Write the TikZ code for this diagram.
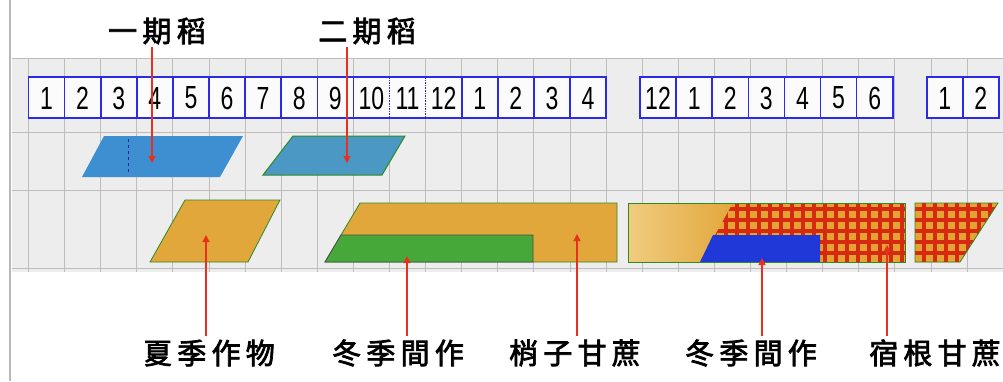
\documentclass[tikz,border=0pt]{standalone}
\usepackage{fontspec}
\usetikzlibrary{arrows.meta}
\newfontfamily\cjk[FakeBold=2.5,LetterSpace=18]{Noto Sans CJK TC}
\newfontfamily\numfont[FakeStretch=0.72]{Liberation Sans}
\definecolor{boxblue}{HTML}{2B2BE6}
\definecolor{riceblue}{HTML}{3D8FD1}
\definecolor{riceblueb}{HTML}{4C98C4}
\definecolor{cropor}{HTML}{E2A73A}
\definecolor{cropgr}{HTML}{47A83A}
\definecolor{edgegr}{HTML}{2E8A22}
\definecolor{cropred}{HTML}{D52A10}
\definecolor{lightor}{HTML}{F0CC80}
\definecolor{intblue}{HTML}{2038D8}
\definecolor{conred}{HTML}{E83020}
\definecolor{bggrid}{HTML}{BDBDBD}
\tikzset{
  mlabel/.style={font=\numfont\fontsize{32}{32}\selectfont, inner sep=0pt},
  boxline/.style={draw=boxblue, line width=1.6pt},
  tlabel/.style={font=\cjk\fontsize{29}{29}\selectfont, inner sep=3pt},
  conn/.style={draw=conred, line width=1.2pt, -{Triangle[length=7pt,width=7pt]}},
  cropedge/.style={draw=edgegr, line width=0.8pt},
}
\begin{document}
\begin{tikzpicture}[x=1pt,y=-1pt]
\useasboundingbox (0,0) rectangle (1003,381);
% background
\fill[white] (0,0) rectangle (1003,381);
\draw[gray!55, line width=1.2pt] (10,0) -- (10,381);
\fill[gray!14] (12,58) rectangle (1003,272);
\foreach \k in {0,...,27}
  \draw[bggrid, line width=0.9pt] ({28.5+36.1*\k},58) -- ({28.5+36.1*\k},272);
\foreach \yy in {58,132,190,268}
  \draw[bggrid, line width=0.9pt] (12,\yy) -- (1003,\yy);
\fill[white!70!gray!10] (28.5,77) rectangle (606.1,118);
\fill[white!70!gray!10] (640,77) rectangle (892.7,118);
\fill[white!70!gray!10] (926.7,77) rectangle (999,118);

% month boxes
\foreach \lab [count=\i] in {1,2,3,4,5,6,7,8,9,10,11,12,1,2,3,4}
  \node[mlabel] (ga\i) at ({28.5+36.1*(\i-0.5)},98) {\lab};
\foreach \lab [count=\i] in {12,1,2,3,4,5,6}
  \node[mlabel] (gb\i) at ({640+36.1*(\i-0.5)},98) {\lab};
\foreach \lab [count=\i] in {1,2}
  \node[mlabel] (gc\i) at ({926.7+36.1*(\i-0.5)},98) {\lab};
\draw[boxline] (28.5,77) rectangle (606.1,118);
\foreach \k in {1,...,9,12,13,14,15}
  \draw[boxline] ({28.5+36.1*\k},77) -- ({28.5+36.1*\k},118);
\foreach \k in {10,11}
  \draw[boxline, densely dotted] ({28.5+36.1*\k},77) -- ({28.5+36.1*\k},118);
\draw[boxline] (640,77) rectangle (892.7,118);
\foreach \k in {1,...,6}
  \draw[boxline] ({640+36.1*\k},77) -- ({640+36.1*\k},118);
\draw[boxline] (926.7,77) rectangle (998.9,118);
\draw[boxline] (962.8,77) -- (962.8,118);

% rice crops
\fill[riceblue] (104,136) -- (243,136) -- (220,177) -- (82,177) -- cycle;
\draw[intblue!70!black, dashed, line width=1pt] (128,139) -- (128,173);
\filldraw[fill=riceblueb, draw=edgegr, line width=1pt] (293,136) -- (405,136) -- (382,175) -- (263,175) -- cycle;

% summer crop
\filldraw[fill=cropor, cropedge] (185,200) -- (280,200) -- (248,262) -- (150,262) -- cycle;

% winter intercrop + sugarcane (block B)
\filldraw[fill=cropor, cropedge] (360,203) -- (617,203) -- (617,262) -- (325,262) -- cycle;
\filldraw[fill=cropgr, draw=black!70, line width=0.8pt] (341,235) -- (533,235) -- (533,262) -- (325,262) -- cycle;

% block C
\shade[left color=lightor, right color=cropor] (628,203) rectangle (733,262);
\begin{scope}
  \clip (733,203) -- (905,203) -- (905,262) -- (700,262) -- cycle;
  \fill[cropor!90!orange] (690,200) rectangle (910,265);
  \draw[cropred, line width=4pt] (690,199) grid[step=11pt] (910,270);
\end{scope}
\fill[intblue] (713,235) -- (820,235) -- (820,262) -- (700,262) -- cycle;
\draw[cropedge] (628,203) rectangle (905,262);

% block D
\begin{scope}
  \clip (915,203) -- (998,203) -- (960,262) -- (915,262) -- cycle;
  \fill[cropor!90!orange] (910,200) rectangle (1003,265);
  \draw[cropred, line width=4pt] (910,199) grid[step=11pt] (1003,270);
\end{scope}
\draw[cropedge] (915,203) -- (998,203) -- (960,262) -- (915,262) -- cycle;

% labels
\node[tlabel] (yiqi) at (157,31) {一期稻};
\node[tlabel] (erqi) at (367,31) {二期稻};
\node[tlabel] (xiaji) at (209,353) {夏季作物};
\node[tlabel] (dongji) at (398,353) {冬季間作};
\node[tlabel] (shaozi) at (575,353) {梢子甘蔗};
\node[tlabel] (dongjib) at (751,353) {冬季間作};
\node[tlabel] (sugen) at (935,353) {宿根甘蔗};

% connector targets
\coordinate (a1) at (152,163);
\coordinate (a2) at (347,163);
\coordinate (b1) at (206,235);
\coordinate (b2) at (407,256);
\coordinate (b3) at (577,234);
\coordinate (b4) at (762,258);
\coordinate (b5) at (887,245);

\draw[conn] (yiqi.south -| a1) -- (a1);
\draw[conn] (erqi.south -| a2) -- (a2);
\draw[conn] (xiaji.north -| b1) -- (b1);
\draw[conn] (dongji.north -| b2) -- (b2);
\draw[conn] (shaozi.north -| b3) -- (b3);
\draw[conn] (dongjib.north -| b4) -- (b4);
\draw[conn] (sugen.north -| b5) -- (b5);
\end{tikzpicture}
\end{document}
